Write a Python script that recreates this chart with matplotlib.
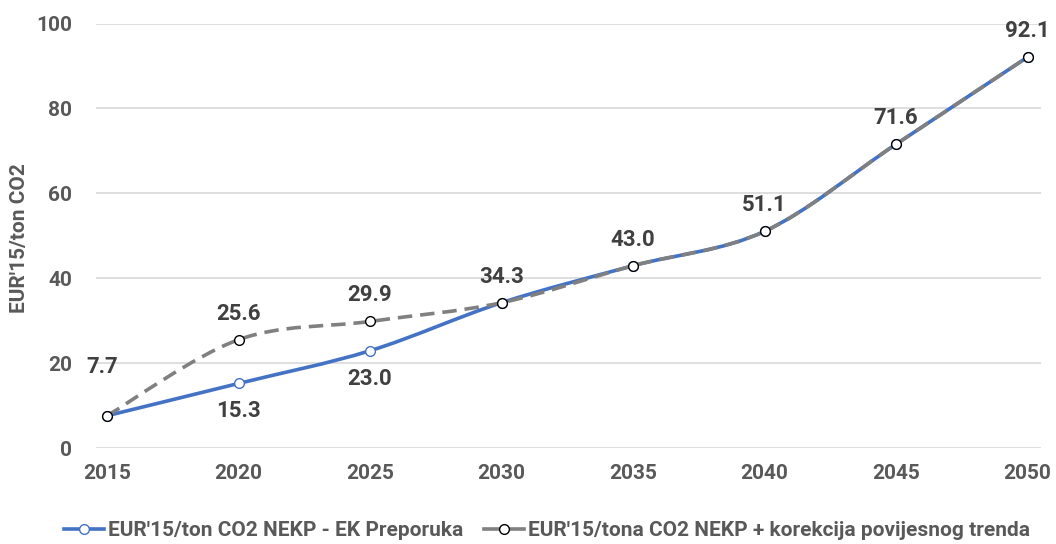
import matplotlib
matplotlib.use("Agg")
import matplotlib.pyplot as plt
from matplotlib.path import Path
from matplotlib.patches import PathPatch
import numpy as np

years = [2015, 2020, 2025, 2030, 2035, 2040, 2045, 2050]
ek_values = [7.7, 15.3, 23.0, 34.3, 43.0, 51.1, 71.6, 92.1]
trend_values = [7.7, 25.6, 29.9, 34.3, 43.0, 51.1, 71.6, 92.1]
ek_label = "EUR'15/ton CO2 NEKP - EK Preporuka"
trend_label = "EUR'15/tona CO2 NEKP + korekcija povijesnog trenda"

plt.rcParams['font.family'] = ['Roboto', 'DejaVu Sans']
plt.rcParams['font.weight'] = 'bold'

BLUE = '#4472C4'
GRAY = '#808080'
TICK = '#595959'
LBL = '#404040'


def smooth_path(xs, ys):
    # excel-style smoothed line: cubic bezier between the data points
    pts = np.column_stack([xs, ys]).astype(float)
    n = len(pts)
    verts = [pts[0]]
    codes = [Path.MOVETO]
    for i in range(n - 1):
        p0 = pts[max(i - 1, 0)]
        p1 = pts[i]
        p2 = pts[i + 1]
        p3 = pts[min(i + 2, n - 1)]
        verts += [p1 + (p2 - p0) / 6, p2 - (p3 - p1) / 6, p2]
        codes += [Path.CURVE4] * 3
    return Path(verts, codes)


fig = plt.figure(figsize=(10.56, 5.44), dpi=100)
ax = fig.add_axes([0.0909, 0.1756, 0.8949, 0.7812])

ax.add_patch(PathPatch(smooth_path(years, ek_values), fill=False, edgecolor=BLUE,
                       lw=2.6, capstyle='round', zorder=3))
ax.plot(years, ek_values, ls='none', marker='o', ms=7, mfc='white', mec=BLUE, mew=1.0, zorder=4)
ax.add_patch(PathPatch(smooth_path(years, trend_values), fill=False, edgecolor=GRAY,
                       lw=2.6, linestyle=(0, (4, 2.2)), zorder=5))
ax.plot(years, trend_values, ls='none', marker='o', ms=7, mfc='white', mec='black', mew=1.0, zorder=6)

# data labels
lab = dict(textcoords='offset pixels', ha='center', va='center', fontsize=16,
           color=LBL, fontweight='bold')
for i, (x, a, b) in enumerate(zip(years, ek_values, trend_values)):
    if i == 0:
        ax.annotate(f"{b:.1f}", (x, b), xytext=(-5, 49), **lab)
    elif a != b:
        ax.annotate(f"{b:.1f}", (x, b), xytext=(0, 26), **lab)
        ax.annotate(f"{a:.1f}", (x, a), xytext=(0, -28), **lab)
    else:
        ax.annotate(f"{b:.1f}", (x, b), xytext=(0, 26), **lab)

ax.set_xlim(2014.58, 2050.51)
ax.set_ylim(0, 100)
ax.set_xticks(years)
ax.set_yticks(range(0, 101, 20))
ax.tick_params(length=0, labelsize=15, labelcolor=TICK)
ax.tick_params(axis='x', pad=11)
ax.tick_params(axis='y', pad=17)
for t in ax.get_xticklabels() + ax.get_yticklabels():
    t.set_fontweight('bold')
ax.grid(axis='y', color='#d9d9d9', lw=1.2)
ax.set_axisbelow(True)
for s in ax.spines.values():
    s.set_visible(False)
ax.set_ylabel("EUR'15/ton CO2", fontsize=15, color=TICK, fontweight='bold')
ax.yaxis.set_label_coords(-0.071, 0.495)

h1 = plt.Line2D([], [], color=BLUE, lw=2.6, marker='o', ms=7, mfc='white', mec=BLUE, mew=1.0)
h2 = plt.Line2D([], [], color=GRAY, lw=2.6, marker='o', ms=7, mfc='white', mec='black', mew=1.0)
leg = fig.legend([h1, h2], [ek_label, trend_label], loc='center', bbox_to_anchor=(0.518, 0.025),
                 ncol=2, frameon=False, prop={'size': 15, 'weight': 'bold'},
                 handlelength=1.9, handletextpad=0.2, columnspacing=1.0)
for t in leg.get_texts():
    t.set_color(TICK)

fig.savefig('out.png', dpi=100)
